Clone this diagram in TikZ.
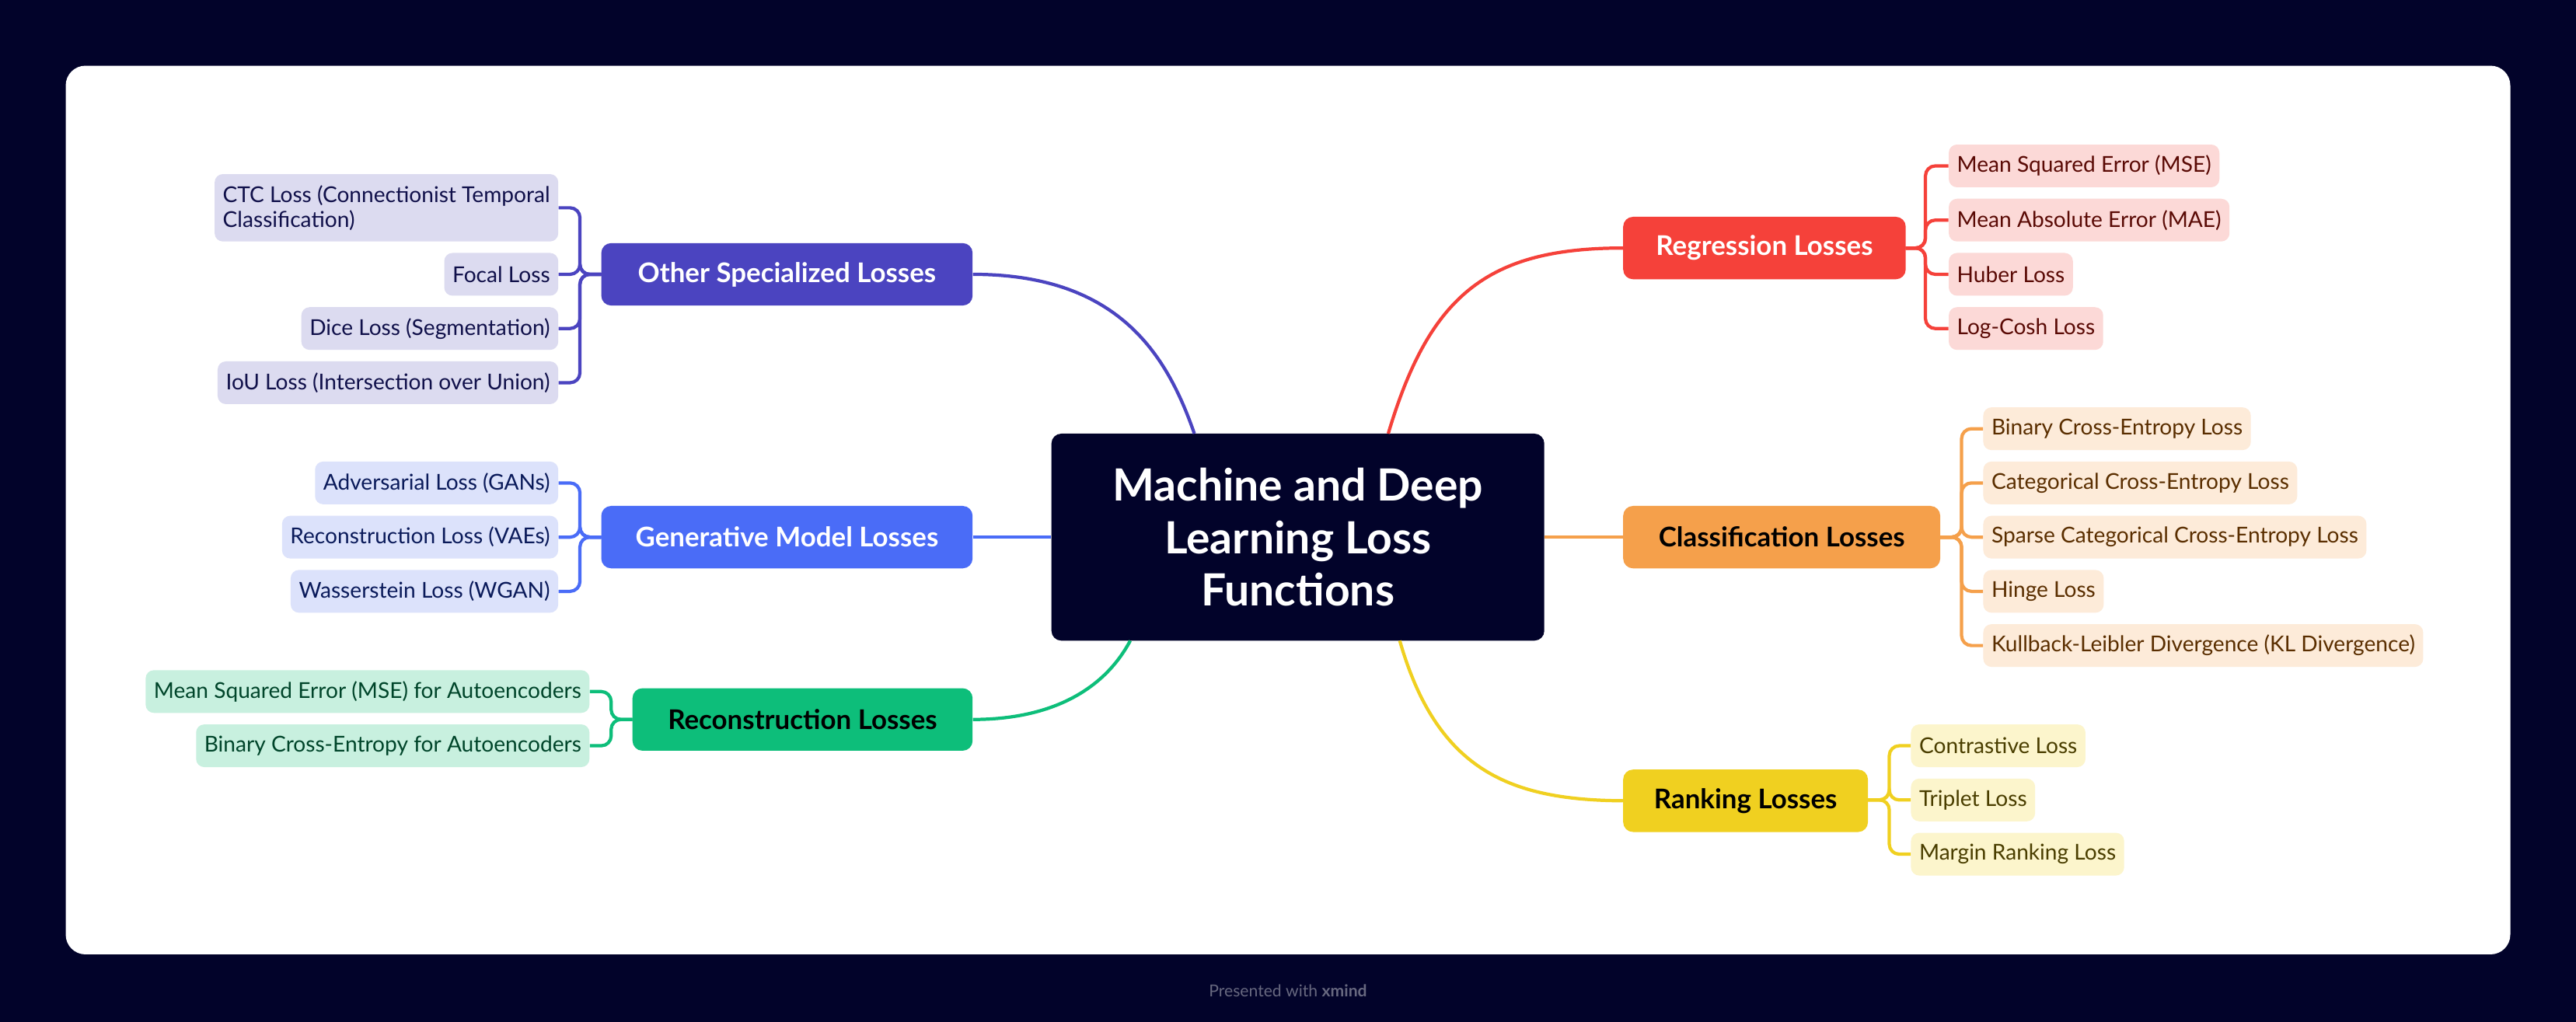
\documentclass[tikz,border=0pt]{standalone}
\usepackage{fontspec}
\setmainfont{Lato}
\begin{document}
\begin{tikzpicture}[x=1pt,y=-1pt,
 ch/.style={rounded corners=5pt,minimum height=26pt,inner xsep=5pt,font=\fontsize{13.3}{15}\selectfont},
 br/.style={rounded corners=6pt,minimum height=38pt,inner xsep=16pt,font=\fontsize{16.5}{19}\selectfont\bfseries},
 ln/.style={line width=2pt,rounded corners=6pt}]
\definecolor{bg}{HTML}{02032A}
\definecolor{cred}{HTML}{F5413A}\definecolor{lred}{HTML}{FCD9D7}\definecolor{tred}{HTML}{5A0A05}
\definecolor{corg}{HTML}{F5A04B}\definecolor{lorg}{HTML}{FDEBD9}\definecolor{torg}{HTML}{5A2E00}
\definecolor{cyel}{HTML}{F0D020}\definecolor{lyel}{HTML}{FCF5CC}\definecolor{tyel}{HTML}{4A3E00}
\definecolor{cpur}{HTML}{4B44C0}\definecolor{lpur}{HTML}{DCDBF0}\definecolor{tpur}{HTML}{10104A}
\definecolor{cblu}{HTML}{4A6CF7}\definecolor{lblu}{HTML}{DCE2FB}\definecolor{tblu}{HTML}{0A1A5A}
\definecolor{cgrn}{HTML}{0DBE7A}\definecolor{lgrn}{HTML}{C8F0DF}\definecolor{tgrn}{HTML}{00452A}
\fill[bg] (0,0) rectangle (1568,622);
\useasboundingbox (0,0) rectangle (1568,622);
\fill[white,rounded corners=12pt] (40,40) rectangle (1528,581);
\node[fill=bg,rounded corners=6pt,minimum width=300pt,minimum height=126pt,text=white,align=center,font=\fontsize{27}{32}\selectfont\bfseries] (c) at (790,327) {Machine and Deep\\Learning Loss\\Functions};
\coordinate (cr) at (845,264);\coordinate (cs) at (727,264);
\coordinate (ck) at (852,390);\coordinate (cg) at (688,390);
% Regression
\node[br,fill=cred,text=white,minimum width=172pt] (reg) at (1074,151) {Regression Losses};
\foreach \n/\y/\t in {r1/101/Mean Squared Error (MSE),r2/134/Mean Absolute Error (MAE),r3/167/Huber Loss,r4/200/Log-Cosh Loss}{
 \node[ch,fill=lred,text=tred,anchor=west] (\n) at (1186,\y) {\t};
 \draw[ln,cred] (1160,151) -- (1172,151) |- (\n.west);}
\draw[ln,cred] (cr) .. controls (870,180) and (905,151) .. (reg.west);
% Classification
\node[br,fill=corg,text=black,minimum width=193pt] (cla) at (1084.5,327) {Classification Losses};
\foreach \n/\y/\t in {k1/261/Binary Cross-Entropy Loss,k2/294/Categorical Cross-Entropy Loss,k3/327/Sparse Categorical Cross-Entropy Loss,k4/360/Hinge Loss,k5/393/Kullback-Leibler Divergence (KL Divergence)}{
 \node[ch,fill=lorg,text=torg,anchor=west] (\n) at (1207,\y) {\t};
 \draw[ln,corg] (1181,327) -- (1194,327) |- (\n.west);}
\draw[ln,corg] (c.east) -- (cla.west);
% Ranking
\node[br,fill=cyel,text=black,minimum width=149pt] (rank) at (1062.5,487.5) {Ranking Losses};
\foreach \n/\y/\t in {g1/454/Contrastive Loss,g2/487/Triplet Loss,g3/520/Margin Ranking Loss}{
 \node[ch,fill=lyel,text=tyel,anchor=west] (\n) at (1163,\y) {\t};
 \draw[ln,cyel] (1137,487) -- (1150,487) |- (\n.west);}
\draw[ln,cyel] (ck) .. controls (875,470) and (920,487) .. (rank.west);
% Other specialized
\node[br,fill=cpur,text=white,minimum width=226pt] (spec) at (479,167) {Other Specialized Losses};
\node[ch,fill=lpur,text=tpur,anchor=east,align=left,minimum height=41pt] (s1) at (340,126.5) {CTC Loss (Connectionist Temporal\\Classification)};
\foreach \n/\y/\t in {s2/167/Focal Loss,s3/200/Dice Loss (Segmentation),s4/233/IoU Loss (Intersection over Union)}{
 \node[ch,fill=lpur,text=tpur,anchor=east] (\n) at (340,\y) {\t};}
\foreach \n in {s1,s2,s3,s4}{\draw[ln,cpur] (366,167) -- (353,167) |- (\n.east);}
\draw[ln,cpur] (spec.east) .. controls (680,167) and (710,215) .. (cs);
% Generative
\node[br,fill=cblu,text=white,minimum width=226pt] (gen) at (479,327) {Generative Model Losses};
\foreach \n/\y/\t in {v1/294/Adversarial Loss (GANs),v2/327/Reconstruction Loss (VAEs),v3/360/Wasserstein Loss (WGAN)}{
 \node[ch,fill=lblu,text=tblu,anchor=east] (\n) at (340,\y) {\t};
 \draw[ln,cblu] (366,327) -- (353,327) |- (\n.east);}
\draw[ln,cblu] (gen.east) -- (c.west);
% Reconstruction
\node[br,fill=cgrn,text=black,minimum width=207pt] (rec) at (488.5,438) {Reconstruction Losses};
\foreach \n/\y/\t in {e1/421/Mean Squared Error (MSE) for Autoencoders,e2/454/Binary Cross-Entropy for Autoencoders}{
 \node[ch,fill=lgrn,text=tgrn,anchor=east] (\n) at (359,\y) {\t};
 \draw[ln,cgrn] (385,438) -- (372,438) |- (\n.east);}
\draw[ln,cgrn] (rec.east) .. controls (640,438) and (672,420) .. (cg);
\node[text=bg!60!white,font=\fontsize{10}{12}\selectfont] (ft) at (784,603) {Presented with \textbf{xmind}};
\end{tikzpicture}
\end{document}
